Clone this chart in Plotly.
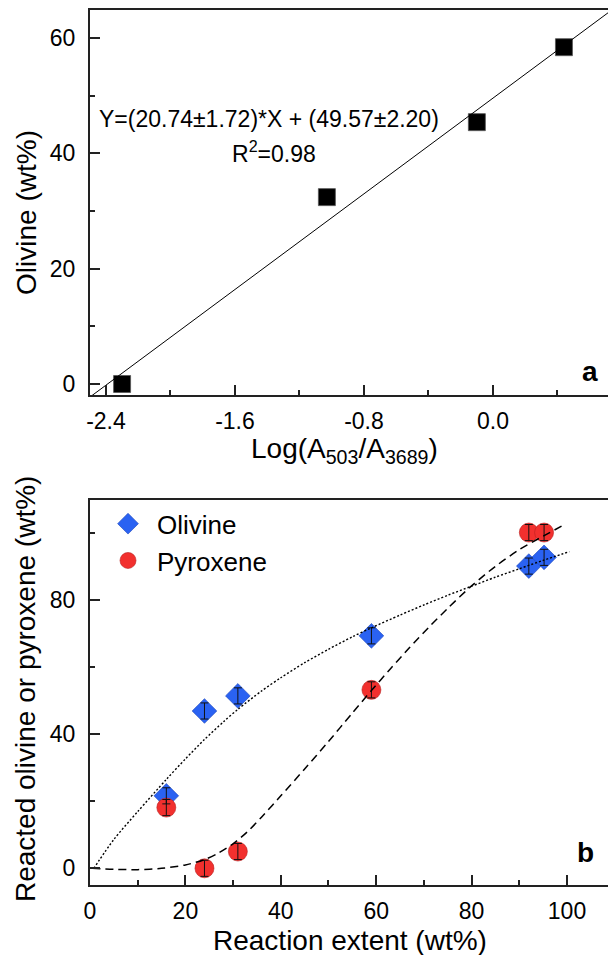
import plotly.graph_objects as go

# ---------------- Panel a data ----------------
a_x = [-2.30, -1.03, -0.10, 0.44]
a_y = [0.0, 32.4, 45.4, 58.4]
fit_slope = 20.74
fit_intercept = 49.57
fit_x = [-2.6, 0.8]
fit_y = [fit_slope * v + fit_intercept for v in fit_x]

a_xticks = [-2.4, -1.6, -0.8, 0.0, 0.8]
a_xticktext = ["-2.4", "-1.6", "-0.8", "0.0", "0.8"]
a_xminor = [-2.0, -1.2, -0.4, 0.4]
a_yticks = [0, 20, 40, 60]
a_yminor = [10, 30, 50]

# ---------------- Panel b data ----------------
extent = [16, 24, 31, 59, 92, 95.2]
olivine = [21.6, 46.9, 51.4, 69.3, 90.1, 92.7]
pyroxene = [18.1, 0.0, 5.0, 53.2, 100.1, 100.1]
oliv_err = [2.4, 2.4, 2.4, 2.4, 2.4, 2.4]
pyro_err = [2.4, 2.4, 2.4, 2.4, 2.4, 2.4]

oliv_fit_x = [0.8, 5, 10, 16, 20, 24, 28, 31, 36, 40, 45, 50, 55, 59, 65, 70, 75, 80, 85, 90, 95, 100.5]
oliv_fit_y = [0, 8.6, 16.9, 26.5, 32.6, 38.4, 43.7, 47.4, 52.9, 56.8, 61.3, 65.3, 69.0, 71.7, 75.5, 78.5, 81.4, 84.1, 86.8, 89.3, 91.8, 94.4]

pyro_fit_x = [0.5, 5, 10, 15, 20, 24, 27, 30, 33, 36, 40, 45, 50, 55, 59, 63, 67, 71, 75, 80, 85, 90, 95, 99.4]
pyro_fit_y = [0, -0.3, -0.4, 0.0, 1.0, 2.6, 4.6, 7.3, 10.9, 15.3, 21.6, 29.6, 37.8, 46.3, 53.0, 59.5, 65.8, 71.8, 77.5, 84.2, 90.0, 95.0, 99.0, 102.4]

b_xticks = [0, 20, 40, 60, 80, 100]
b_xminor = [10, 30, 50, 70, 90]
b_yticks = [0, 40, 80]
b_yminor = [20, 60, 100]

FONT = "Liberation Sans, Arial, sans-serif"
AX = "#222222"

fig = go.Figure()

# panel a
fig.add_trace(go.Scatter(x=a_x, y=a_y, mode="markers", xaxis="x", yaxis="y",
                         marker=dict(symbol="square", size=17, color="black",
                                     line=dict(color="#555555", width=0.8)),
                         showlegend=False))
fig.add_trace(go.Scatter(x=fit_x, y=fit_y, mode="lines", xaxis="x", yaxis="y",
                         line=dict(color="black", width=1), showlegend=False))

# panel b markers
fig.add_trace(go.Scatter(x=extent, y=olivine, mode="markers", xaxis="x2", yaxis="y2",
                         name="Olivine",
                         marker=dict(symbol="diamond", size=19, color="#2A62F2",
                                     line=dict(color="#1C46B8", width=0.6))))
fig.add_trace(go.Scatter(x=extent, y=pyroxene, mode="markers", xaxis="x2", yaxis="y2",
                         name="Pyroxene",
                         marker=dict(symbol="circle", size=19, color="#F2302E",
                                     line=dict(color="#B82020", width=0.6))))
# error bars drawn on top of the markers
for vals, errs in ((olivine, oliv_err), (pyroxene, pyro_err)):
    fig.add_trace(go.Scatter(x=extent, y=vals, mode="markers", xaxis="x2", yaxis="y2",
                             marker=dict(size=1, color="rgba(0,0,0,0)"), showlegend=False,
                             hoverinfo="skip",
                             error_y=dict(type="data", array=errs, visible=True,
                                          color="#111111", thickness=1, width=4)))
# panel b fitted curves
fig.add_trace(go.Scatter(x=oliv_fit_x, y=oliv_fit_y, mode="lines", xaxis="x2", yaxis="y2",
                         line=dict(color="black", width=1.4, dash="2px,2px", shape="spline", smoothing=0.8),
                         showlegend=False))
fig.add_trace(go.Scatter(x=pyro_fit_x, y=pyro_fit_y, mode="lines", xaxis="x2", yaxis="y2",
                         line=dict(color="black", width=1.5, dash="8px,5px", shape="spline", smoothing=0.8),
                         showlegend=False))

common_axis = dict(showline=True, linecolor=AX, linewidth=2, ticks="inside", ticklen=10,
                   tickwidth=1.5, tickcolor=AX, showgrid=False, zeroline=False,
                   tickfont=dict(size=23, color="black", family=FONT))

fig.update_layout(
    width=608, height=955,
    margin=dict(l=90, r=0, t=10, b=70),
    plot_bgcolor="white", paper_bgcolor="white",
    font=dict(family=FONT, size=23, color="black"),
    xaxis=dict(domain=[0, 1], anchor="y", range=[-2.499, 0.7132], mirror=True,
               tickvals=a_xticks, ticktext=a_xticktext, ticklabelstandoff=4,
               minor=dict(tickvals=a_xminor, ticks="inside", ticklen=5, tickwidth=1.5, tickcolor=AX),
               **common_axis),
    yaxis=dict(domain=[0.56, 1], anchor="x", range=[-1.91, 64.85],
               tickvals=a_yticks, ticklabelstandoff=8,
               minor=dict(tickvals=a_yminor, ticks="inside", ticklen=5, tickwidth=1.5, tickcolor=AX),
               **common_axis),
    xaxis2=dict(domain=[0, 1], anchor="y2", range=[0, 108.6], mirror=True,
                tickvals=b_xticks, ticklabelstandoff=4,
                minor=dict(tickvals=b_xminor, ticks="inside", ticklen=5, tickwidth=1.5, tickcolor=AX),
                **common_axis),
    yaxis2=dict(domain=[0, 0.44], anchor="x2", range=[-4.98, 109.8],
                tickvals=b_yticks, ticklabelstandoff=8,
                minor=dict(tickvals=b_yminor, ticks="inside", ticklen=5, tickwidth=1.5, tickcolor=AX),
                **common_axis),
    legend=dict(x=0.0174, y=0.4397, xanchor="left", yanchor="top", bgcolor="rgba(0,0,0,0)",
                itemwidth=48,
                font=dict(size=26, family=FONT, color="black"), tracegroupgap=0),
)

ann = [
    dict(text="Y=(20.74\u00b11.72)*X + (49.57\u00b12.20)", xref="x domain", yref="y domain",
         x=0.346, y=0.717, font=dict(size=23)),
    dict(text="R<sup>2</sup>=0.98", xref="x domain", yref="y domain",
         x=0.356, y=0.631, font=dict(size=23)),
    dict(text="<b>a</b>", xref="x domain", yref="y domain", x=0.965, y=0.06, font=dict(size=28)),
    dict(text="<b>b</b>", xref="x2 domain", yref="y2 domain", x=0.956, y=0.085, font=dict(size=28)),
    dict(text="Log(A<sub>503</sub>/A<sub>3689</sub>)", xref="x domain", yref="y domain",
         x=0.492, y=-0.143, font=dict(size=28)),
    dict(text="Olivine (wt%)", xref="x domain", yref="y domain", x=-0.1216, y=0.473,
         textangle=-90, font=dict(size=28)),
    dict(text="Reaction extent (wt%)", xref="x2 domain", yref="y2 domain",
         x=0.502, y=-0.145, font=dict(size=28)),
    dict(text="Reacted olivine or pyroxene (wt%)", xref="x2 domain", yref="y2 domain",
         x=-0.1255, y=0.509, textangle=-90, font=dict(size=28)),
]
for a in ann:
    a.update(showarrow=False, xanchor="center", yanchor="middle")
    a["font"].update(family=FONT, color="black")
fig.update_layout(annotations=ann)

fig.write_html("out.html")
